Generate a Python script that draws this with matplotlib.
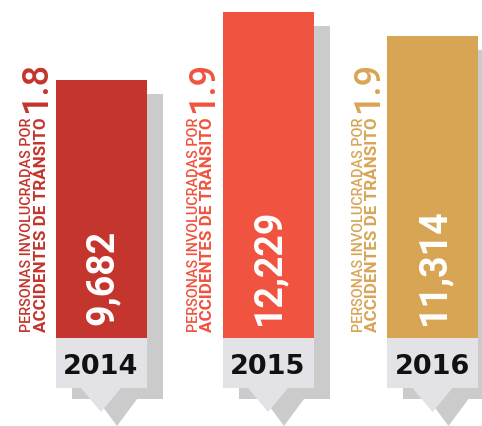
import matplotlib
matplotlib.use("Agg")
import matplotlib.pyplot as plt
from matplotlib.patches import Polygon
import numpy as np

# ---- data ----
years = ["2014", "2015", "2016"]
personas = [9682, 12229, 11314]
ratio_labels = ["1.8", "1.9", "1.9"]
line1 = "PERSONAS INVOLUCRADAS POR"
line2 = "ACCIDENTES DE TRÁNSITO"

# ---- style ----
bar_colors = ["#c3352d", "#f0533f", "#d8a555"]
shadow_color = "#cbcbcb"
box_color = "#e3e3e7"
W, H = 482, 427
fig = plt.figure(figsize=(W / 100, H / 100), dpi=100)
ax = fig.add_axes([0, 0, 1, 1])
ax.set_axis_off()

base_px = 339          # pixel row of value 0
top_px = 13            # pixel row of the max value
k = max(personas) / (base_px - top_px)   # value units per pixel


def py(p):
    """pixel row -> data y"""
    return (base_px - p) * k


ax.set_xlim(0, W)
ax.set_ylim(py(H), py(0))

xs = np.array([101, 268, 432.5])
bw = 91
sdx, sdy = 16, 14

vals = np.array(personas, dtype=float)
# shadows
ax.bar(xs + sdx, vals - sdy * k - py(400), bottom=py(400), width=bw,
       color=shadow_color, zorder=1)
for x in xs:
    ax.add_patch(Polygon([[x + sdx - 20, py(400)], [x + sdx + 20, py(400)],
                          [x + sdx, py(427)]], closed=True,
                         facecolor=shadow_color, edgecolor="none", zorder=1))
# bars
ax.bar(xs, vals, width=bw, color=bar_colors, zorder=2)
# year boxes
ax.bar(xs, py(339) - py(389), bottom=py(389), width=bw, color=box_color, zorder=3)
for x in xs:
    ax.add_patch(Polygon([[x - 20, py(389)], [x + 20, py(389)], [x, py(413)]],
                         closed=True, facecolor=box_color, edgecolor="none", zorder=3))

renderer = fig.canvas.get_renderer()


def fit(t, target_px):
    fs = t.get_fontsize()
    for _ in range(3):
        bb = t.get_window_extent(renderer)
        fs = fs * target_px / bb.height
        t.set_fontsize(fs)
    return fs


for i, x in enumerate(xs):
    ax.text(x, py(367), years[i], ha="center", va="center", fontsize=19.5,
            fontweight="bold", family="DejaVu Sans", color="#111111", zorder=4)
    ax.text(x + 1, py(325), f"{personas[i]:,}", rotation=90, ha="center", va="bottom",
            fontsize=27, fontweight="bold", family="Roboto", color="white", zorder=4)
    left = x - bw / 2
    bx2 = left - 10
    t2 = ax.text(bx2, py(332), line2, rotation=90, rotation_mode="anchor",
                 ha="left", va="baseline", fontsize=12, family="Roboto",
                 fontweight="bold", color=bar_colors[i], zorder=4)
    fs2 = fit(t2, 214)
    cap2 = 0.711 * fs2 * 100 / 72
    t1 = ax.text(bx2 - cap2 - 2, py(332), line1, rotation=90, rotation_mode="anchor",
                 ha="left", va="baseline", fontsize=10, family="Roboto",
                 fontweight="medium", color=bar_colors[i], zorder=4)
    fit(t1, 214)
    ax.text(bx2 + 1, py(113), ratio_labels[i], rotation=90, rotation_mode="anchor",
            ha="left", va="baseline", fontsize=26, family="Roboto",
            fontweight="medium", color=bar_colors[i], zorder=4)

fig.savefig("out.png", dpi=100)
